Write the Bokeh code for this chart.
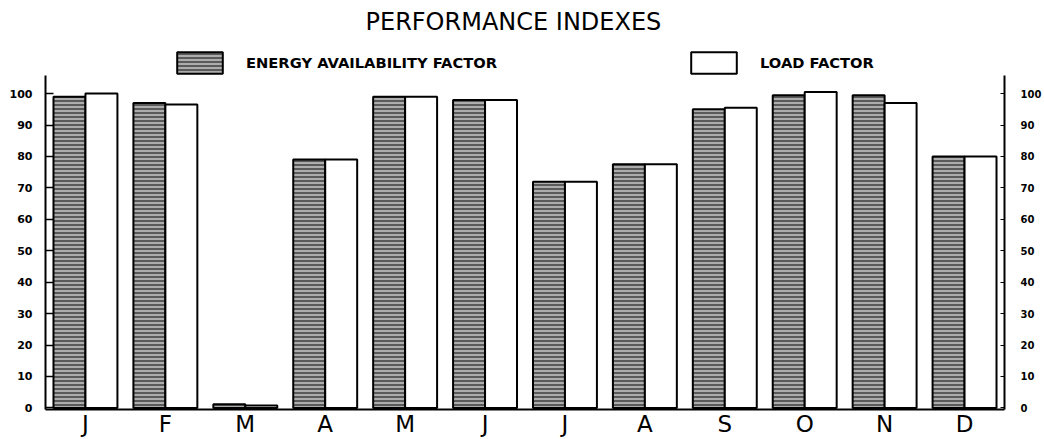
from bokeh.plotting import figure
from bokeh.models import (ColumnDataSource, Range1d, LinearAxis, FixedTicker,
                          Legend, LegendItem, Title)
from bokeh.transform import dodge
from bokeh.embed import file_html
from bokeh.resources import INLINE

# ---- data ----
months = ["J", "F", "M", "A", "M", "J", "J", "A", "S", "O", "N", "D"]
energy_availability = [99, 97, 1.2, 79, 99, 98, 72, 77.5, 95, 99.5, 99.5, 80]
load_factor = [100, 96.5, 0.8, 79, 99, 98, 72, 77.5, 95.5, 100.5, 97, 80]
y_ticks = [0, 10, 20, 30, 40, 50, 60, 70, 80, 90, 100]

idx = list(range(1, len(months) + 1))
src = ColumnDataSource(dict(idx=idx, energy=energy_availability, load=load_factor))

p = figure(width=1044, height=439, output_backend="svg", toolbar_location=None,
           x_range=Range1d(0.5, 12.5), y_range=Range1d(-0.5, 116.9),
           min_border_left=45, min_border_right=39, min_border_top=40,
           min_border_bottom=29)
p.outline_line_color = None
p.grid.visible = False
p.background_fill_color = "white"

r1 = p.vbar(x=dodge("idx", -0.2, range=p.x_range), top="energy", width=0.4,
            source=src, fill_color="#5a5a5a", line_color="black", line_width=2,
            hatch_pattern="horizontal_line", hatch_color="white",
            hatch_scale=4, hatch_weight=1)
r2 = p.vbar(x=dodge("idx", 0.2, range=p.x_range), top="load", width=0.4,
            source=src, fill_color="white", line_color="black", line_width=2)

# x axis
xa = p.xaxis[0]
xa.ticker = FixedTicker(ticks=idx)
xa.major_label_overrides = {i: m for i, m in zip(idx, months)}
xa.major_tick_line_color = None
xa.major_tick_in = 0
xa.major_tick_out = 0
xa.minor_tick_line_color = None
xa.axis_line_width = 2
xa.major_label_standoff = 1
xa.major_label_text_font = "DejaVu Sans"
xa.major_label_text_font_size = "23px"
xa.major_label_text_color = "black"

# left y axis
ya = p.yaxis[0]
ya.ticker = FixedTicker(ticks=y_ticks)
ya.bounds = (-0.5, 105.8)
ya.axis_line_width = 2
ya.major_tick_in = 8
ya.major_tick_out = 0
ya.major_tick_line_width = 1.5
ya.minor_tick_line_color = None
ya.major_label_standoff = 13
ya.major_label_text_font = "DejaVu Sans"
ya.major_label_text_font_style = "bold"
ya.major_label_text_font_size = "11px"
ya.major_label_text_color = "black"

# right y axis
ra = LinearAxis(ticker=FixedTicker(ticks=y_ticks), bounds=(-0.5, 105.8))
ra.axis_line_width = 2
ra.major_tick_in = 4
ra.major_tick_out = 0
ra.minor_tick_line_color = None
ra.major_label_standoff = 16
ra.major_label_text_font = "DejaVu Sans"
ra.major_label_text_font_style = "bold"
ra.major_label_text_font_size = "10px"
ra.major_label_text_color = "black"
p.add_layout(ra, "right")

legend = Legend(items=[LegendItem(label="ENERGY AVAILABILITY FACTOR", renderers=[r1]),
                       LegendItem(label="LOAD FACTOR", renderers=[r2])],
                orientation="horizontal", location=(126, 333),
                glyph_width=57, glyph_height=27, label_standoff=18, spacing=188,
                padding=0, margin=0, border_line_color=None,
                background_fill_alpha=0,
                label_text_font="DejaVu Sans", label_text_font_style="bold",
                label_text_font_size="14.7px", label_text_color="black")
p.add_layout(legend, "center")

title = Title(text="PERFORMANCE INDEXES", align="left", offset=320,
              text_font="DejaVu Sans", text_font_style="normal",
              text_font_size="24px", text_color="black", standoff=10)
p.add_layout(title, "above")

open("out.html", "w").write(file_html(p, INLINE))
